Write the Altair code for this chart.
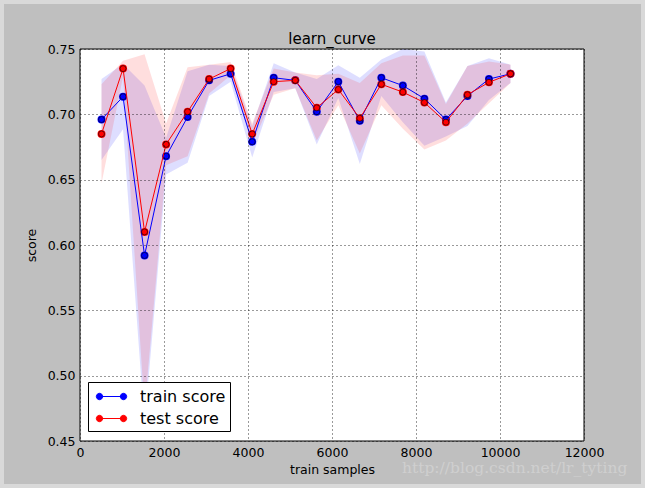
import altair as alt
import pandas as pd

train_sizes = [512, 1025, 1537, 2050, 2562, 3075, 3587, 4100, 4612, 5125,
               5637, 6150, 6662, 7175, 7687, 8200, 8712, 9225, 9737, 10250]
train_mean = [0.696, 0.7135, 0.592, 0.668, 0.698, 0.726, 0.731, 0.679, 0.728, 0.726,
              0.702, 0.725, 0.695, 0.728, 0.722, 0.712, 0.696, 0.714, 0.727, 0.731]
train_std = [0.031, 0.025, 0.130, 0.014, 0.035, 0.012, 0.006, 0.012, 0.011, 0.006,
             0.025, 0.0125, 0.033, 0.014, 0.028, 0.036, 0.013, 0.023, 0.016, 0.007]
test_mean = [0.685, 0.735, 0.610, 0.677, 0.702, 0.727, 0.735, 0.685, 0.725, 0.726,
             0.705, 0.719, 0.697, 0.723, 0.717, 0.709, 0.694, 0.715, 0.7245, 0.731]
test_std = [0.038, 0.006, 0.136, 0.016, 0.034, 0.011, 0.005, 0.008, 0.010, 0.006,
            0.025, 0.012, 0.027, 0.016, 0.028, 0.036, 0.014, 0.022, 0.016, 0.007]
series_names = ["train score", "test score"]
series_colors = ["#0000ff", "#ff0000"]
x_ticks = [0, 2000, 4000, 6000, 8000, 10000, 12000]
y_ticks = [0.45, 0.50, 0.55, 0.60, 0.65, 0.70, 0.75]
title_text = "learn_curve"
watermark = "http://blog.csdn.net/lr_tyting"

rows = []
for name, means, stds in [(series_names[0], train_mean, train_std),
                          (series_names[1], test_mean, test_std)]:
    for x, m, s in zip(train_sizes, means, stds):
        rows.append({"samples": x, "score": m, "lo": m - s, "hi": m + s, "series": name})
df = pd.DataFrame(rows)

W, H = 504, 392
FONT = "DejaVu Sans"

x_scale = alt.Scale(domain=[0, 12000], nice=False, zero=False)
y_scale = alt.Scale(domain=[0.45, 0.75], nice=False, zero=False)
col_scale = alt.Scale(domain=series_names, range=series_colors)

x_axis = alt.Axis(values=x_ticks, title="train samples", format="d", zindex=1,
                  labelFlush=False)
y_axis = alt.Axis(values=y_ticks, title="score", format=".2f", zindex=1,
                  labelFlush=False)
x_enc = alt.X("samples:Q", scale=x_scale, axis=x_axis)
y_enc = alt.Y("score:Q", scale=y_scale, axis=y_axis)

LEG_PATH = ("M-1.2,0H1.2"
            "M-1.52,0a0.32,0.32 0 1,0 0.64,0a0.32,0.32 0 1,0 -0.64,0Z"
            "M0.88,0a0.32,0.32 0 1,0 0.64,0a0.32,0.32 0 1,0 -0.64,0Z")
leg = alt.Legend(orient="none", legendX=8, legendY=333, title=None,
                 symbolType=LEG_PATH, symbolSize=400, symbolStrokeWidth=1,
                 symbolOpacity=1,
                 labelFontSize=16, labelFont=FONT, labelColor="black",
                 fillColor="white", strokeColor="black", padding=4,
                 rowPadding=3, symbolOffset=9, labelOffset=18, cornerRadius=0,
                 zindex=2)

one = alt.Data(values=[{"k": 1}])

frame = alt.Chart(one).mark_rect(fill="#bfbfbf").encode(
    x=alt.value(-76), x2=alt.value(561), y=alt.value(-45), y2=alt.value(435))
plotbg = alt.Chart(one).mark_rect(fill="white", stroke="black", strokeWidth=1).encode(
    x=alt.value(0), x2=alt.value(W), y=alt.value(0), y2=alt.value(H))
title_mark = alt.Chart(one).mark_text(text=title_text, font=FONT, fontSize=15,
                                      color="black", align="center",
                                      baseline="alphabetic").encode(
    x=alt.value(W / 2), y=alt.value(-5))

base = alt.Chart(df)

bands = []
for name, colr in zip(series_names, series_colors):
    bands.append(base.transform_filter(alt.datum.series == name).mark_area(
        opacity=0.13, clip=True, fill=colr).encode(
        x=x_enc,
        y=alt.Y("lo:Q", scale=y_scale, axis=y_axis),
        y2="hi:Q"))

legend_layer = base.mark_point(filled=True, size=36, opacity=1).encode(
    x=x_enc, y=y_enc,
    fill=alt.Fill("series:N", scale=col_scale, legend=leg),
    stroke=alt.Stroke("series:N", scale=col_scale, legend=leg))

series_layers = []
for name in series_names:
    sub = base.transform_filter(alt.datum.series == name)
    series_layers.append(sub.mark_line(strokeWidth=1).encode(
        x=x_enc, y=y_enc,
        stroke=alt.Stroke("series:N", scale=col_scale, legend=leg)))
    series_layers.append(sub.mark_point(filled=True, size=36, opacity=1,
                                        stroke="black", strokeWidth=0.6).encode(
        x=x_enc, y=y_enc,
        fill=alt.Fill("series:N", scale=col_scale, legend=leg)))

wm = alt.Chart(one).mark_text(text=watermark, font="DejaVu Serif", fontSize=15.5,
                              color="#cfcfcf", align="left", baseline="middle").encode(
    x=alt.value(322), y=alt.value(419))

chart = alt.layer(frame, plotbg, *bands, legend_layer, *series_layers, wm,
                  title_mark).properties(
    width=W, height=H,
    background="#d9d9d9",
    padding={"left": 80, "top": 49, "right": 61, "bottom": 47},
    autosize=alt.AutoSizeParams(type="none"),
).configure_view(stroke=None).configure_axis(
    domain=False, ticks=False, labelPadding=5, labelFont=FONT, labelFontSize=12.5,
    labelColor="black", titleFont=FONT, titleFontSize=12.5, titleFontWeight="normal",
    titleColor="black", gridColor="black", gridDash=[1, 3], gridWidth=0.8,
    gridOpacity=1
).configure_axisX(titlePadding=5).configure_axisY(titlePadding=9)

chart.save("out.html", embed_options={"renderer": "svg", "actions": False})
